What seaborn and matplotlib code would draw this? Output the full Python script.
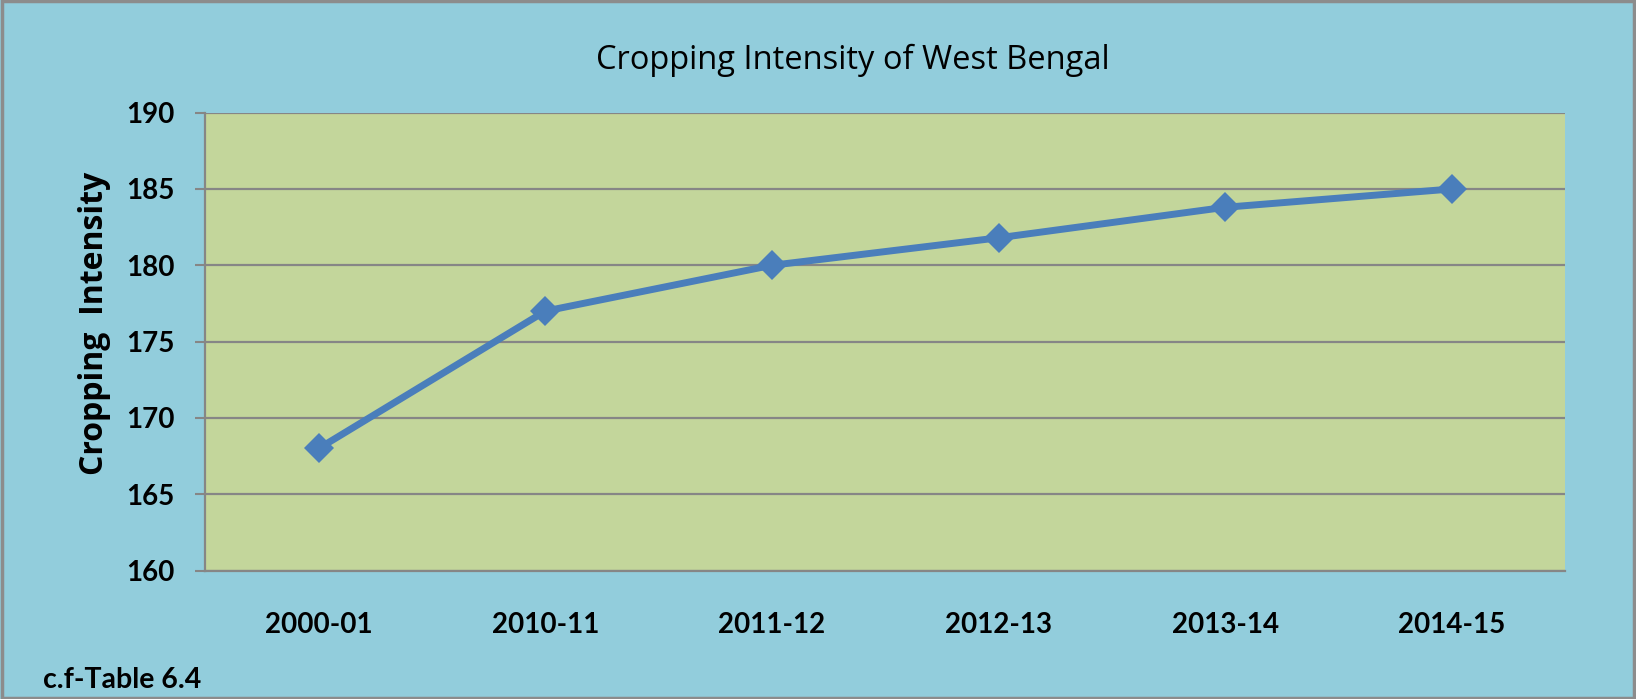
import pandas as pd
import seaborn as sns
import matplotlib.pyplot as plt
from matplotlib.patches import Rectangle

# Values
years = ['2000-01', '2010-11', '2011-12', '2012-13', '2013-14', '2014-15']
intensity = [168, 177, 180, 181.8, 183.8, 185]
y_ticks = [160, 165, 170, 175, 180, 185, 190]

df = pd.DataFrame({'Year': years, 'Cropping Intensity': intensity})

sns.set_style('white')
plt.rcParams['font.family'] = ['Lato', 'DejaVu Sans']
plt.rcParams['text.color'] = 'black'
plt.rcParams['xtick.color'] = 'black'
plt.rcParams['ytick.color'] = 'black'

bg_blue = '#92CDDC'
plot_green = '#C3D69B'
line_blue = '#4A7EBB'
grid_grey = '#868686'

fig = plt.figure(figsize=(16.36, 6.99), dpi=100, facecolor=bg_blue)
ax = fig.add_axes([0.1256, 0.1838, 0.831, 0.655])
ax.set_facecolor(plot_green)

sns.lineplot(data=df, x='Year', y='Cropping Intensity', ax=ax, color=line_blue,
             linewidth=5, marker='D', markersize=15.5, markeredgewidth=0, sort=False)

# Axis limits and ticks
ax.set_ylim(160, 190)
ax.set_xlim(-0.5, len(years) - 0.5)
ax.set_yticks(y_ticks)
ax.set_yticklabels([str(t) for t in y_ticks], fontsize=20, fontweight='bold')
ax.set_xticks(range(len(years)))
ax.set_xticklabels(years, fontsize=20, fontweight='bold')
ax.set_xticks([i - 0.5 for i in range(len(years) + 1)], minor=True)
ax.tick_params(axis='x', which='major', length=0, pad=30)
ax.tick_params(axis='x', which='minor', length=7, width=1.5, color=grid_grey, direction='out')
ax.tick_params(axis='y', length=7, width=1.5, color=grid_grey, labelcolor='black',
               direction='out', pad=15, left=True)
ax.tick_params(axis='x', labelcolor='black')
ax.set_xlabel('')
ax.set_ylabel('')

# Horizontal grid lines
ax.grid(axis='y', color=grid_grey, linewidth=1.6)
ax.set_axisbelow(True)

for side in ['top', 'right']:
    ax.spines[side].set_visible(False)
for side in ['left', 'bottom']:
    ax.spines[side].set_color(grid_grey)
    ax.spines[side].set_linewidth(1.6)

# Title, axis label and source note
fig.text(0.5214, 0.913, 'Cropping Intensity of West Bengal', ha='center', va='center',
         fontsize=23.5, family=['Open Sans', 'DejaVu Sans'], color='black')
fig.text(0.0575, 0.538, 'Cropping  Intensity', rotation=90, ha='center', va='center',
         fontsize=23, fontweight='bold', family=['Open Sans', 'DejaVu Sans'], color='black')
fig.text(0.026, 0.016, 'c.f-Table 6.4', ha='left', va='baseline',
         fontsize=20.5, fontweight='bold', color='black')

# Grey border around the whole chart
fig.patches.append(Rectangle((0.001, 0.001), 0.998, 0.997, transform=fig.transFigure,
                             fill=False, edgecolor='#8C8C8C', linewidth=2.5))

fig.savefig('out.png', dpi=100, facecolor=bg_blue)
